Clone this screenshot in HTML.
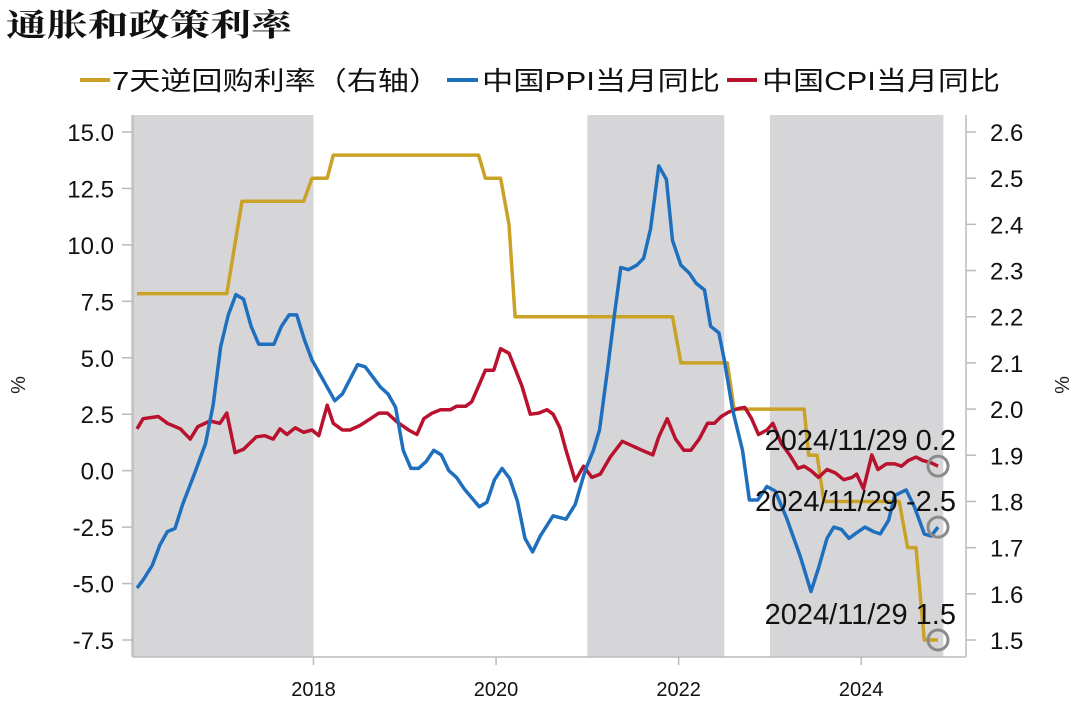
<!DOCTYPE html>
<html><head><meta charset="utf-8"><style>
html,body{margin:0;padding:0;background:#fff;}
body{width:1080px;height:703px;overflow:hidden;font-family:"Liberation Sans","Noto Sans CJK SC",sans-serif;}
svg text{font-family:"Liberation Sans","Noto Sans CJK SC",sans-serif;}
</style></head><body>
<svg id="chart" width="1080" height="703" viewBox="0 0 1080 703" xmlns="http://www.w3.org/2000/svg">
<text x="6" y="36" font-size="31" textLength="286" lengthAdjust="spacingAndGlyphs" style="font-family:'Noto Serif CJK SC',serif;font-weight:bold" fill="#111">通胀和政策利率</text>
<g id="legend">
<g><line x1="80" y1="80" x2="110" y2="80" stroke="#C9A227" stroke-width="4"/><text x="112" y="90" font-size="26" textLength="328" lengthAdjust="spacingAndGlyphs" fill="#111">7天逆回购利率（右轴）</text></g>
<g><line x1="447" y1="80" x2="478" y2="80" stroke="#1F6FBF" stroke-width="4"/><text x="482" y="90" font-size="26" textLength="238" lengthAdjust="spacingAndGlyphs" fill="#111">中国PPI当月同比</text></g>
<g><line x1="727" y1="80" x2="757" y2="80" stroke="#B8122E" stroke-width="4"/><text x="762" y="90" font-size="26" textLength="238" lengthAdjust="spacingAndGlyphs" fill="#111">中国CPI当月同比</text></g>
</g>
<g id="shades"></g><g id="axes"></g><g id="lines"></g><g id="annos"></g>
</svg>
<script>
// months since Jan 2016 (positions)
const recessionStart = [-0.8, 59.2, 83.2];
const recessionEnd = [23.2, 77.2, 106];
const leftTicks = [15.0, 12.5, 10.0, 7.5, 5.0, 2.5, 0.0, -2.5, -5.0, -7.5];
const rightTicks = [2.6, 2.5, 2.4, 2.3, 2.2, 2.1, 2.0, 1.9, 1.8, 1.7, 1.6, 1.5];
const yearTicks = [2018, 2020, 2022, 2024];
const ppiT = [0,0.8,2,3,4,5,6,7.6,9,10,11,12,13,14,15,16,18,19,20,21,22,23,24,26,27,29,30,32,33,34,35,36,37,38,39,40,41,42,43,45,46,47,48,49,50,51,52,53,54.7,56.4,57.6,58.9,60,60.8,61.9,62.8,63.6,64.6,65.7,66.6,67.5,68.6,69.6,70.4,71.5,72.6,73.5,74.6,75.4,76.5,77.2,78.3,79.6,80.5,81.6,82.8,83.9,85.4,87.2,88.6,89.6,90.7,91.6,92.6,93.6,94.6,95.7,96.8,97.7,98.8,99.6,101.1,102.2,103.5,104.4,105.3];
const ppiV = [-5.2,-4.84,-4.2,-3.3,-2.7,-2.56,-1.5,-0.1,1.2,2.9,5.5,6.9,7.8,7.6,6.4,5.6,5.6,6.4,6.9,6.9,5.8,4.9,4.3,3.1,3.4,4.7,4.6,3.7,3.4,2.8,0.9,0.1,0.1,0.4,0.9,0.7,0.0,-0.3,-0.8,-1.6,-1.4,-0.4,0.1,-0.35,-1.35,-3.0,-3.6,-2.9,-2.0,-2.15,-1.5,0.0,0.9,1.8,4.6,7.0,9.0,8.9,9.1,9.4,10.7,13.5,12.9,10.2,9.1,8.75,8.3,8.0,6.4,6.1,4.9,2.7,0.9,-1.3,-1.3,-0.7,-0.9,-2.1,-3.8,-5.35,-4.3,-3.0,-2.5,-2.6,-3.0,-2.75,-2.5,-2.7,-2.8,-2.2,-1.1,-0.85,-1.6,-2.8,-2.9,-2.5];
const cpiT = [0,0.8,2.8,4,5.7,7,8,9.6,10.9,11.8,12.9,14,15.7,16.8,17.9,18.8,19.7,20.8,21.9,23,23.9,25,25.8,27,28,29.3,30.7,31.8,32.9,34.2,35.7,36.8,37.7,38.8,39.9,41.2,42,43.2,44,44.9,45.8,46.9,47.8,48.9,50.6,51.7,52.8,53.9,54.7,55.6,56.4,57.6,58.7,59.8,60.9,62.2,63.8,65.1,66.4,67.8,68.6,69.7,70.8,71.9,72.8,73.9,75,75.9,76.8,77.8,79,79.9,80.8,81.7,82.8,83.6,84.7,85.8,86.9,87.7,88.6,89.6,90.7,91.8,92.9,94,94.6,95.5,96.6,97.4,98.5,99.6,100.5,101.4,102.4,103.3,104.4,105.3];
const cpiV = [1.85,2.3,2.4,2.1,1.85,1.4,1.95,2.2,2.1,2.55,0.8,0.95,1.5,1.55,1.4,1.85,1.6,1.9,1.7,1.8,1.55,2.9,2.1,1.8,1.8,2.0,2.3,2.55,2.55,2.15,1.8,1.6,2.3,2.55,2.7,2.7,2.85,2.85,3.05,3.75,4.45,4.45,5.4,5.2,3.75,2.5,2.55,2.7,2.5,1.9,0.9,-0.45,0.2,-0.3,-0.15,0.6,1.3,1.1,0.9,0.7,1.5,2.3,1.4,0.9,0.9,1.4,2.1,2.1,2.4,2.6,2.75,2.8,2.3,1.6,1.8,2.1,1.2,0.7,0.1,0.2,0.0,-0.3,0.05,-0.1,-0.4,-0.3,-0.15,-0.8,0.7,0.05,0.3,0.3,0.2,0.45,0.6,0.45,0.35,0.2];
const repoT = [0,11.8,13.8,21.9,23,25,25.8,44.9,45.8,47.8,48.9,49.7,70.4,71.5,77.6,78.5,87.7,88.3,89.4,90.3,100.2,101.3,102.4,103.5,105.3];
const repoV = [2.25,2.25,2.45,2.45,2.5,2.5,2.55,2.55,2.5,2.5,2.4,2.2,2.2,2.1,2.1,2.0,2.0,1.9,1.9,1.8,1.8,1.7,1.7,1.5,1.5];
const annoLabels = ["2024/11/29 0.2", "2024/11/29 -2.5", "2024/11/29 1.5"];

const NS = "http://www.w3.org/2000/svg";
function xs(m){ return 137 + m * 7.607; }
function yl(v){ return 132 + (15 - v) * (508 / 22.5); }
function yr(v){ return 132 + (2.6 - v) * (508 / 1.1); }
function mk(tag, attrs, parent){ const e = document.createElementNS(NS, tag); for (const k in attrs) e.setAttribute(k, attrs[k]); parent.appendChild(e); return e; }
const shades = document.getElementById('shades'), axes = document.getElementById('axes'), lines = document.getElementById('lines'), annos = document.getElementById('annos');

for (let i = 0; i < recessionStart.length; i++) {
  const r = mk('rect', {x: xs(recessionStart[i]), y: 115, width: xs(recessionEnd[i]) - xs(recessionStart[i]), height: 542, fill: '#D6D6D8'}, shades);
  
  
}
let a = mk('line', {x1: 133, y1: 115, x2: 133, y2: 657, stroke: '#BBB', 'stroke-width': 1.5}, axes);
 
a = mk('line', {x1: 966, y1: 115, x2: 966, y2: 657, stroke: '#BBB', 'stroke-width': 1.5}, axes);
 
a = mk('line', {x1: 133, y1: 657, x2: 966, y2: 657, stroke: '#BBB', 'stroke-width': 1.5}, axes);
 
leftTicks.forEach(v => {
  mk('line', {x1: 122, y1: yl(v), x2: 133, y2: yl(v), stroke: '#BBB', 'stroke-width': 1.5}, axes);
  const t = mk('text', {x: 114, y: yl(v) + 9, 'text-anchor': 'end', 'font-size': 24, fill: '#111'}, axes);
  t.textContent = v.toFixed(1);
  
  
});
rightTicks.forEach(v => {
  mk('line', {x1: 966, y1: yr(v), x2: 976, y2: yr(v), stroke: '#BBB', 'stroke-width': 1.5}, axes);
  const t = mk('text', {x: 990, y: yr(v) + 9, 'font-size': 24, fill: '#111'}, axes);
  t.textContent = v.toFixed(1);
  
  
});
yearTicks.forEach(y => {
  const x = xs((y - 2016) * 12 - 0.8);
  mk('line', {x1: x, y1: 657, x2: x, y2: 665, stroke: '#BBB', 'stroke-width': 1.5}, axes);
  const t = mk('text', {x: x, y: 696, 'text-anchor': 'middle', 'font-size': 20, fill: '#111'}, axes);
  t.textContent = y;
  
  
});
let yt = mk('text', {x: 0, y: 0, 'font-size': 20, fill: '#222', transform: 'translate(25,385) rotate(-90)', 'text-anchor': 'middle'}, axes);
yt.textContent = '%';  
yt = mk('text', {x: 0, y: 0, 'font-size': 20, fill: '#222', transform: 'translate(1069,385) rotate(-90)', 'text-anchor': 'middle'}, axes);
yt.textContent = '%';  

function path(T, V, yf, color, name){
  const d = T.map((t, i) => (i ? 'L' : 'M') + xs(t).toFixed(1) + ',' + yf(V[i]).toFixed(1)).join('');
  const p = mk('path', {d: d, fill: 'none', stroke: color, 'stroke-width': 3.5, 'stroke-linejoin': 'round'}, lines);
  
  
}
path(repoT, repoV, yr, '#C9A227', 'repo-rate-line');
path(cpiT, cpiV, yl, '#B8122E', 'cpi-line');
path(ppiT, ppiV, yl, '#1F6FBF', 'ppi-line');

const ends = [[cpiT[cpiT.length-1], yl(cpiV[cpiV.length-1])], [ppiT[ppiT.length-1], yl(ppiV[ppiV.length-1])], [repoT[repoT.length-1], yr(repoV[repoV.length-1])]];
ends.forEach((e, i) => {
  const x = xs(e[0]), y = e[1];
  const c = mk('circle', {cx: x, cy: y, r: 10, fill: 'none', stroke: '#8A8A8A', 'stroke-width': 3}, annos);
  
  
  const t = mk('text', {x: 956, y: y - 16, 'text-anchor': 'end', 'font-size': 29, fill: '#111'}, annos);
  t.textContent = annoLabels[i];
  
  
});
</script>
</body></html>
